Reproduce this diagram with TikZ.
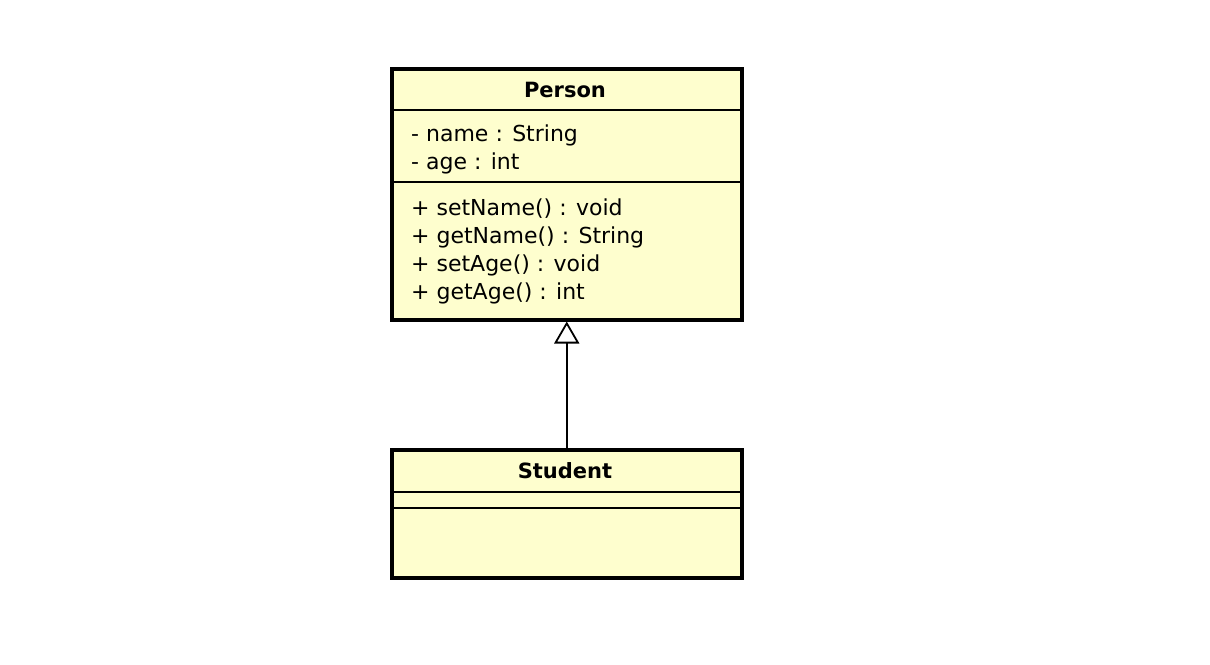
\documentclass[tikz,border=0pt]{standalone}
\usepackage{fontspec}
\setmainfont{DejaVu Sans}
\usetikzlibrary{arrows.meta}
\definecolor{umlfill}{HTML}{FEFECE}
\begin{document}
\begin{tikzpicture}[x=1pt,y=-1pt,
  classbox/.style={draw=black,line width=3.5pt,fill=umlfill,inner sep=0pt,anchor=north west},
  sep/.style={line width=1.3pt},
  title/.style={font=\fontsize{21}{24}\selectfont\bfseries,anchor=base},
  member/.style={font=\fontsize{22}{26}\selectfont,anchor=base west,inner sep=0pt},
  inherit/.style={-{Triangle[open,width=25pt,length=22pt,line width=1.8pt]},line width=1.8pt}]
\useasboundingbox (0,0) rectangle (1210,664);
% Person
\node[classbox,minimum width=350pt,minimum height=251pt] (person) at (390,67) {};
\node[title] (ptitle) at (565,97) {Person};
\draw[sep] (390,110) -- (740,110);
\draw[sep] (390,182) -- (740,182);
\node[member] (a1) at (411,141) {- name : String};
\node[member] (a2) at (411,169) {- age : int};
\node[member] (m1) at (411,215) {+ setName() : void};
\node[member] (m2) at (411,243) {+ getName() : String};
\node[member] (m3) at (411,271) {+ setAge() : void};
\node[member] (m4) at (411,299) {+ getAge() : int};
% Student
\node[classbox,minimum width=350pt,minimum height=128pt] (student) at (390,448) {};
\node[title] (stitle) at (565,478) {Student};
\draw[sep] (390,492) -- (740,492);
\draw[sep] (390,508) -- (740,508);
% Inheritance
\draw[inherit] (student.north) -- (person.south);
\end{tikzpicture}
\end{document}
